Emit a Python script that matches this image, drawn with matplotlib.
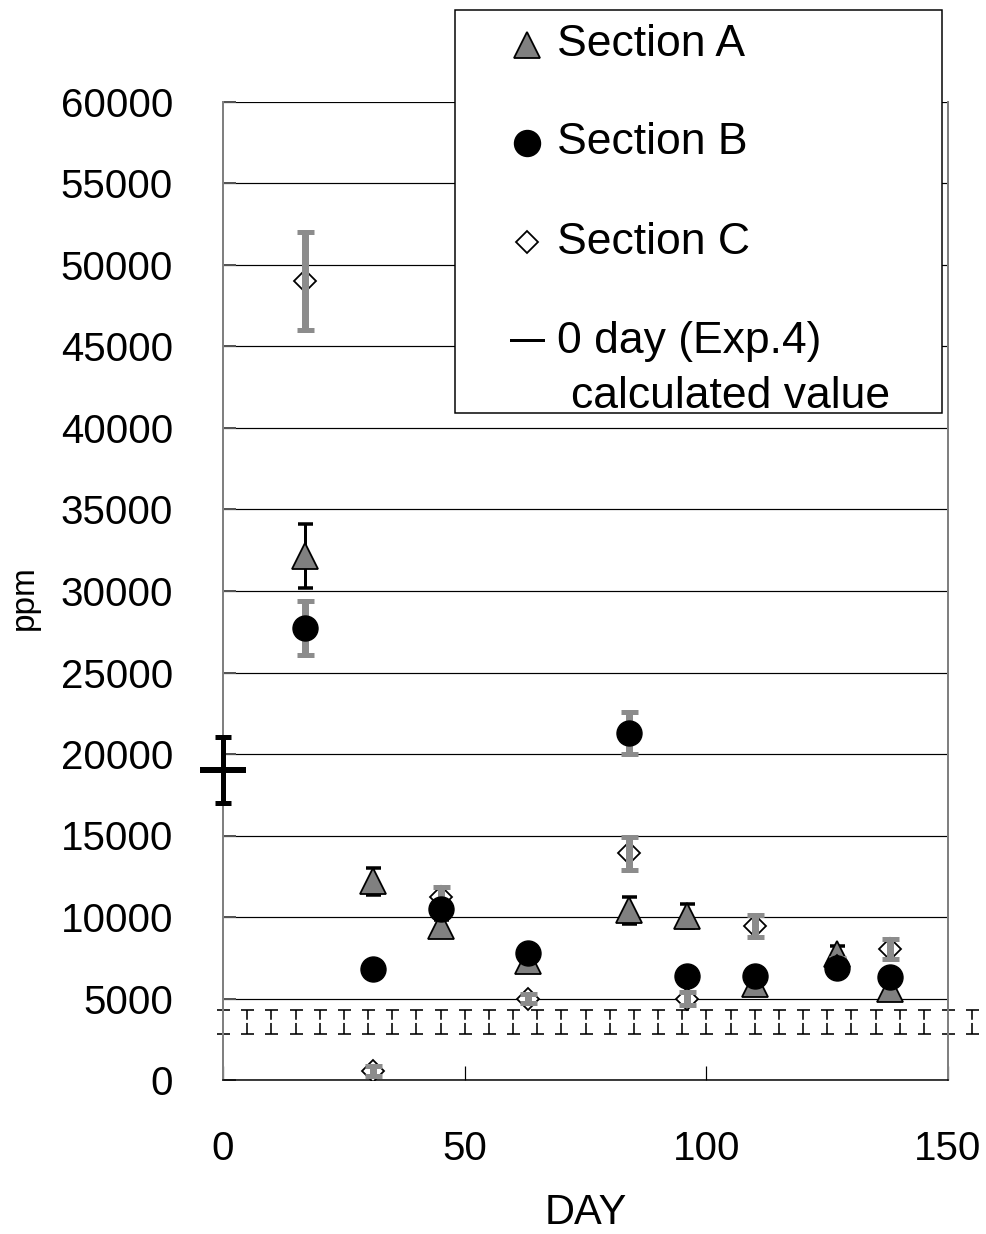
import matplotlib
matplotlib.use("Agg")
import matplotlib.pyplot as plt
from matplotlib.lines import Line2D
from matplotlib.patches import Rectangle

plt.rcParams["font.family"] = ["Liberation Sans", "DejaVu Sans"]

# ---------------------------------------------------------------------------
# Data
# ---------------------------------------------------------------------------
days = [17, 31, 45, 63, 84, 96, 110, 127, 138]

sec_a = [32150, 12180, 9420, 7330, 10400, 10060, 5920, 7700, 5610]
sec_a_err = [1950, 800, 400, 400, 800, 740, 400, 500, 400]

sec_b = [27750, 6790, 10470, 7770, 21270, 6380, 6380, 6870, 6340]
sec_b_err = [1650, 300, 300, 300, 1300, 300, 300, 300, 300]

sec_c = [49000, 550, 11200, 5000, 13900, 5000, 9450, 7000, 8040]
sec_c_err = [3000, 300, 650, 300, 1000, 400, 680, 500, 610]

day0_x = [0]
day0_y = [19020]
day0_err = [2050]

calc_x = list(range(0, 160, 5))
calc_y = [3560] * len(calc_x)
calc_err = [735] * len(calc_x)

y_ticks = list(range(0, 60001, 5000))
x_ticks = [0, 50, 100, 150]

W, H = 987, 1234
DPI = 100


def px(x, y):
    """pixel (from top-left) -> figure fraction"""
    return x / W, 1 - y / H


def pts(p):
    return p * 72 / DPI


fig = plt.figure(figsize=(W / DPI, H / DPI), dpi=DPI)
ax = fig.add_axes([223 / W, 1 - 1080 / H, (948 - 223) / W, (1080 - 102) / H])

STIPPLE = "#8c8c8c"

# calculated value band (dashed I-beams)
eb = ax.errorbar(calc_x, calc_y, yerr=calc_err, fmt="none", ecolor="black",
                 elinewidth=pts(1.6), capsize=pts(6.5), capthick=pts(1.6),
                 zorder=2, clip_on=False)
for c in eb[2]:
    c.set_linestyle((0, (6.9, 2.0)))
for cap in eb[1]:
    cap.set_clip_on(False)

# Section A
ax.errorbar(days, sec_a, yerr=sec_a_err, fmt="none", ecolor="black",
            elinewidth=pts(3), capsize=pts(7.5), capthick=pts(3.5), zorder=3)
ax.plot(days, sec_a, ls="none", marker="^", ms=pts(26), mfc="#808080",
        mec="black", mew=pts(1.8), zorder=4)

# Section C markers (under their error bars)
ax.plot(days, sec_c, ls="none", marker="D", ms=pts(16), mfc="white",
        mec="black", mew=pts(1.8), zorder=5)
ax.errorbar(days, sec_c, yerr=sec_c_err, fmt="none", ecolor=STIPPLE,
            elinewidth=pts(7), capsize=pts(8.5), capthick=pts(5), zorder=6)

# Section B
ax.errorbar(days, sec_b, yerr=sec_b_err, fmt="none", ecolor=STIPPLE,
            elinewidth=pts(7), capsize=pts(8.5), capthick=pts(5), zorder=6)
ax.plot(days, sec_b, ls="none", marker="o", ms=pts(25), mfc="black",
        mec="black", zorder=7)

# 0 day (Exp.4)
eb0 = ax.errorbar(day0_x, day0_y, yerr=day0_err, fmt="none", ecolor="black",
                  elinewidth=pts(5), capsize=pts(8), capthick=pts(5), zorder=8)
for a in list(eb0[1]) + list(eb0[2]):
    a.set_clip_on(False)
ax.plot(day0_x, day0_y, ls="none", marker="_", ms=pts(46), mew=pts(6),
        color="black", zorder=8, clip_on=False)

# axes styling
ax.set_xlim(0, 150)
ax.set_ylim(0, 60000)
ax.set_yticks(y_ticks)
ax.set_xticks(x_ticks)
ax.yaxis.grid(True, color="black", lw=pts(1.2))
ax.set_axisbelow(True)
for s in ["left", "right"]:
    ax.spines[s].set_color("#808080")
    ax.spines[s].set_linewidth(pts(2))
ax.spines["bottom"].set_color("black")
ax.spines["bottom"].set_linewidth(pts(1.5))
ax.spines["top"].set_visible(False)

ax.tick_params(axis="y", direction="in", length=pts(13), width=pts(2),
               color="#555555", labelsize=29, pad=pts(50))
ax.tick_params(axis="x", direction="in", length=pts(14), width=pts(1.2),
               color="black", labelsize=29, pad=pts(50))

ax.set_ylabel("ppm", fontsize=24)
ax.yaxis.set_label_coords(-0.253, 0.493)
ax.set_xlabel("DAY", fontsize=30)
ax.xaxis.set_label_coords(0.5, -0.116)

# legend (drawn box with keys)
x0, y0 = px(455, 413)
x1, y1 = px(942, 10)
fig.add_artist(Rectangle((x0, y0), x1 - x0, y1 - y0, transform=fig.transFigure,
                         facecolor="white", edgecolor="black", lw=pts(1.5),
                         zorder=20))

LEG_FS = 32
key_x = 527
rows = [
    (45, "^", dict(mfc="#808080", mec="black", ms=pts(26), mew=pts(1.8)), "Section A"),
    (143, "o", dict(mfc="black", mec="black", ms=pts(26)), "Section B"),
    (242, "D", dict(mfc="white", mec="black", ms=pts(15.5), mew=pts(1.8)), "Section C"),
]
for ry, mk, kw, label in rows:
    fx, fy = px(key_x, ry)
    fig.add_artist(Line2D([fx], [fy], marker=mk, ls="none", transform=fig.transFigure,
                          zorder=21, **kw))
    tx, ty = px(557, ry)
    fig.text(tx, ty, label, fontsize=LEG_FS, va="center", ha="left", zorder=21)

lx0, ly = px(511, 340)
lx1, _ = px(543, 340)
fig.add_artist(Line2D([lx0, lx1], [ly, ly], color="black", lw=pts(3),
                      transform=fig.transFigure, zorder=21))
tx, ty = px(557, 341)
fig.text(tx, ty, "0 day (Exp.4)", fontsize=LEG_FS, va="center", ha="left", zorder=21)
tx, ty = px(571, 396)
fig.text(tx, ty, "calculated value", fontsize=LEG_FS, va="center", ha="left", zorder=21)

fig.savefig("out.png", dpi=DPI)
